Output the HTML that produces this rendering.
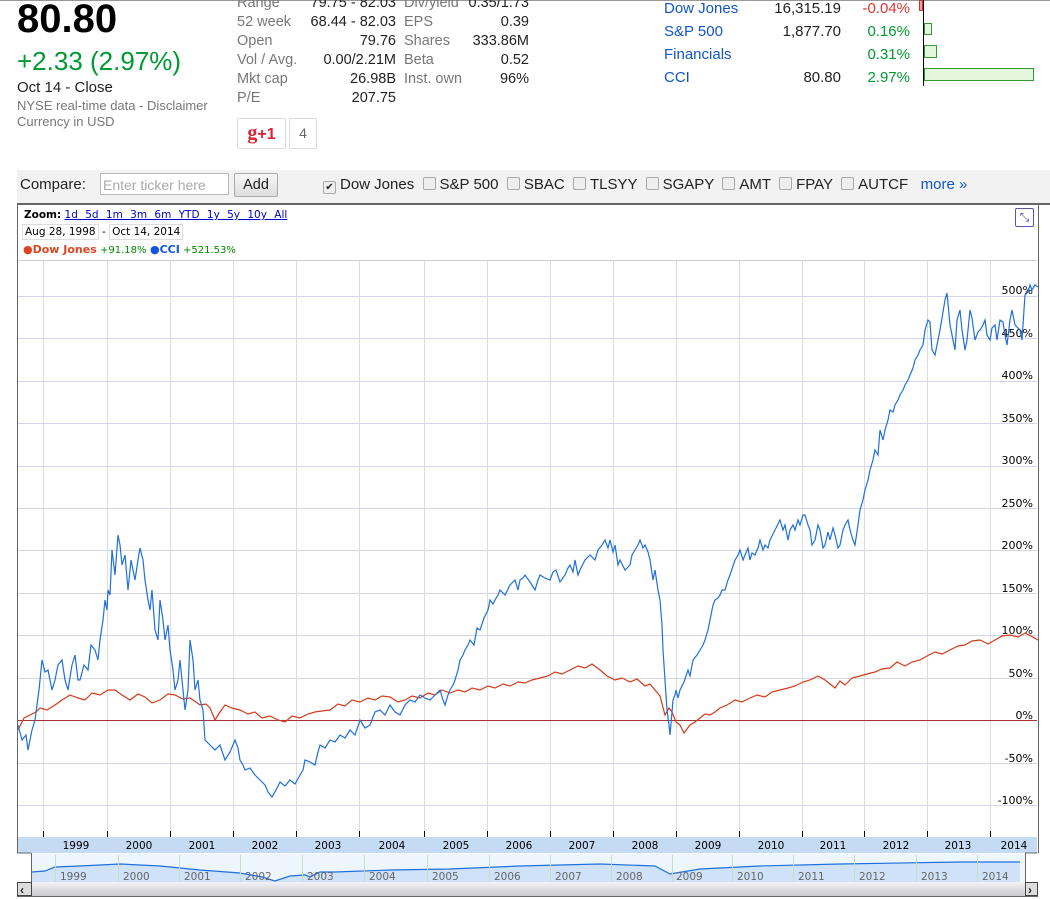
<!DOCTYPE html>
<html><head><meta charset="utf-8"><style>
body{margin:0;width:1050px;height:899px;background:#fff;font-family:"Liberation Sans",Arial,sans-serif;position:relative;overflow:hidden}
.a{position:absolute;white-space:nowrap}
.g{color:#777}
.k{color:#222}
.r{text-align:right}
.cb{display:inline-block;width:11px;height:11px;border:1px solid #aaa;border-radius:2px;background:#eee;vertical-align:-1px;margin-right:4px}
</style></head><body>
<div class="a" style="left:0;top:0;width:1050px;height:1px;background:#999"></div>
<div class="a" style="left:17px;top:-3px;font-size:40px;font-weight:bold;color:#000">80.80</div>
<div class="a" style="left:17px;top:46px;font-size:26px;color:#093">+2.33 (2.97%)</div>
<div class="a" style="left:17px;top:79px;font-size:15px;color:#222">Oct 14 - Close</div>
<div class="a g" style="left:17px;top:98px;font-size:13px">NYSE real-time data - Disclaimer</div>
<div class="a g" style="left:17px;top:114px;font-size:13px">Currency in USD</div>

<div class="a" style="left:237px;top:-6px;font-size:14.5px;line-height:19px">
<div class="g">Range</div><div class="g">52 week</div><div class="g">Open</div><div class="g">Vol / Avg.</div><div class="g">Mkt cap</div><div class="g">P/E</div></div>
<div class="a k r" style="left:290px;width:106px;top:-6px;font-size:14.5px;line-height:19px">
<div>79.75 - 82.03</div><div>68.44 - 82.03</div><div>79.76</div><div>0.00/2.21M</div><div>26.98B</div><div>207.75</div></div>
<div class="a" style="left:404px;top:-6px;font-size:14.5px;line-height:19px">
<div class="g">Div/yield</div><div class="g">EPS</div><div class="g">Shares</div><div class="g">Beta</div><div class="g">Inst. own</div></div>
<div class="a k r" style="left:430px;width:99px;top:-6px;font-size:14.5px;line-height:19px">
<div>0.35/1.73</div><div>0.39</div><div>333.86M</div><div>0.52</div><div>96%</div></div>
<div class="a" style="left:237px;top:118px;width:47px;height:29px;border:1px solid #ddd;border-radius:2px;color:#d23;font-size:20px;text-align:center;line-height:29px;font-family:'Liberation Serif',serif;font-weight:bold">g<span style="font-family:'Liberation Sans';font-size:16px">+1</span></div>
<div class="a" style="left:289px;top:118px;width:26px;height:29px;border:1px solid #ddd;color:#666;font-size:14px;text-align:center;line-height:29px">4</div>

<div class="a" style="left:664px;top:-3px;font-size:15px;line-height:23px;color:#15c"><div>Dow Jones</div><div>S&amp;P 500</div><div>Financials</div><div>CCI</div></div>
<div class="a k r" style="left:740px;width:101px;top:-3px;font-size:15px;line-height:23px"><div>16,315.19</div><div>1,877.70</div><div>&nbsp;</div><div>80.80</div></div>
<div class="a r" style="left:840px;width:70px;top:-3px;font-size:15px;line-height:23px;color:#093"><div style="color:#d33">-0.04%</div><div>0.16%</div><div>0.31%</div><div>2.97%</div></div>
<div class="a" style="left:923px;top:0;width:1px;height:86px;background:#000"></div>
<div class="a" style="left:919px;top:0;width:4px;height:11px;background:#f99;border:1px solid #c33;box-sizing:border-box"></div>
<div class="a" style="left:924px;top:23px;width:8px;height:12px;background:#e4f6de;border:1px solid #393;box-sizing:border-box"></div>
<div class="a" style="left:924px;top:45px;width:13px;height:13px;background:#e4f6de;border:1px solid #393;box-sizing:border-box"></div>
<div class="a" style="left:924px;top:68px;width:110px;height:13px;background:#e4f6de;border:1px solid #393;box-sizing:border-box"></div>

<div class="a" style="left:17px;top:170px;width:1033px;height:33px;background:#f2f2f2;border-bottom:2px solid #666"></div>
<div class="a" style="left:20px;top:176px;font-size:15px;color:#222">Compare:</div>
<div class="a" style="left:100px;top:173px;height:22px;border:1px solid #bbb;background:#fff;color:#aaa;font-size:14px;line-height:22px;padding-left:2px;box-sizing:border-box;width:129px">Enter ticker here</div>
<div class="a" style="left:234px;top:173px;width:42px;height:22px;border:1px solid #aaa;border-radius:2px;background:linear-gradient(#f8f8f8,#ddd);font-size:14.5px;text-align:center;line-height:22px;color:#222">Add</div>
<div class="a" style="left:323px;top:176px;font-size:15px;color:#222"><span class="cb" style="text-align:center;font-size:10px;line-height:11px">✔</span>Dow Jones &nbsp;<span class="cb"></span>S&amp;P 500 &nbsp;<span class="cb"></span>SBAC &nbsp;<span class="cb"></span>TLSYY &nbsp;<span class="cb"></span>SGAPY &nbsp;<span class="cb"></span>AMT &nbsp;<span class="cb"></span>FPAY &nbsp;<span class="cb"></span>AUTCF &nbsp;&nbsp;<span style="color:#15c">more »</span></div>

<div class="a" style="left:17px;top:204px;width:1020px;height:649px;border:1px solid #666;border-top:none;border-bottom:none"></div>
<div class="a" style="left:24px;top:209px;font-size:10.5px;font-family:'DejaVu Sans',sans-serif"><b>Zoom:</b> <span style="color:#00c;text-decoration:underline;word-spacing:4px">1d 5d 1m 3m 6m YTD 1y 5y 10y All</span></div>
<div class="a" style="left:22px;top:226px;font-size:10.5px;font-family:'DejaVu Sans',sans-serif;color:#000"><span style="border:1px solid #ddd;padding:1px 2px">Aug 28, 1998</span> - <span style="border:1px solid #ddd;padding:1px 2px">Oct 14, 2014</span></div>
<div class="a" style="left:23px;top:243px;font-size:11px;font-family:'DejaVu Sans',sans-serif"><span style="color:#d42;font-weight:bold">●Dow Jones</span><span style="color:#080;font-size:10px"> +91.18%</span> <span style="color:#15d;font-weight:bold">●CCI</span><span style="color:#080;font-size:10px"> +521.53%</span></div>
<div class="a" style="left:1015px;top:208px;width:17px;height:17px;border:1px solid #55a;border-radius:2px;color:#44a;font-size:12px;text-align:center;line-height:17px">⤡</div>

<svg class="a" style="left:0;top:0" width="1050" height="899">
<line x1="18" y1="260.5" x2="1037" y2="260.5" stroke="#ccc"/>
<g stroke="#d4d4ea">
<line x1="18" y1="296.5" x2="1037" y2="296.5"/><line x1="18" y1="338.5" x2="1037" y2="338.5"/><line x1="18" y1="381.5" x2="1037" y2="381.5"/><line x1="18" y1="423.5" x2="1037" y2="423.5"/><line x1="18" y1="466.5" x2="1037" y2="466.5"/><line x1="18" y1="508.5" x2="1037" y2="508.5"/><line x1="18" y1="550.5" x2="1037" y2="550.5"/><line x1="18" y1="593.5" x2="1037" y2="593.5"/><line x1="18" y1="635.5" x2="1037" y2="635.5"/><line x1="18" y1="678.5" x2="1037" y2="678.5"/><line x1="18" y1="763.5" x2="1037" y2="763.5"/><line x1="18" y1="805.5" x2="1037" y2="805.5"/>
</g>
<g stroke="#ddd"><line x1="43.5" y1="261" x2="43.5" y2="837"/><line x1="107.5" y1="261" x2="107.5" y2="837"/><line x1="170.5" y1="261" x2="170.5" y2="837"/><line x1="233.5" y1="261" x2="233.5" y2="837"/><line x1="296.5" y1="261" x2="296.5" y2="837"/><line x1="359.5" y1="261" x2="359.5" y2="837"/><line x1="424.5" y1="261" x2="424.5" y2="837"/><line x1="487.5" y1="261" x2="487.5" y2="837"/><line x1="550.5" y1="261" x2="550.5" y2="837"/><line x1="613.5" y1="261" x2="613.5" y2="837"/><line x1="676.5" y1="261" x2="676.5" y2="837"/><line x1="739.5" y1="261" x2="739.5" y2="837"/><line x1="802.5" y1="261" x2="802.5" y2="837"/><line x1="864.5" y1="261" x2="864.5" y2="837"/><line x1="927.5" y1="261" x2="927.5" y2="837"/><line x1="990.5" y1="261" x2="990.5" y2="837"/></g>
<g stroke="#000"><line x1="43.5" y1="831" x2="43.5" y2="837"/><line x1="107.5" y1="831" x2="107.5" y2="837"/><line x1="170.5" y1="831" x2="170.5" y2="837"/><line x1="233.5" y1="831" x2="233.5" y2="837"/><line x1="296.5" y1="831" x2="296.5" y2="837"/><line x1="359.5" y1="831" x2="359.5" y2="837"/><line x1="424.5" y1="831" x2="424.5" y2="837"/><line x1="487.5" y1="831" x2="487.5" y2="837"/><line x1="550.5" y1="831" x2="550.5" y2="837"/><line x1="613.5" y1="831" x2="613.5" y2="837"/><line x1="676.5" y1="831" x2="676.5" y2="837"/><line x1="739.5" y1="831" x2="739.5" y2="837"/><line x1="802.5" y1="831" x2="802.5" y2="837"/><line x1="864.5" y1="831" x2="864.5" y2="837"/><line x1="927.5" y1="831" x2="927.5" y2="837"/><line x1="990.5" y1="831" x2="990.5" y2="837"/></g>
<g font-family="DejaVu Sans,sans-serif" font-size="11" fill="#000" text-anchor="end">
<text x="1033" y="294">500%</text><text x="1033" y="337">450%</text><text x="1033" y="379">400%</text><text x="1033" y="422">350%</text><text x="1033" y="464">300%</text><text x="1033" y="507">250%</text><text x="1033" y="549">200%</text><text x="1033" y="592">150%</text><text x="1033" y="634">100%</text><text x="1033" y="677">50%</text><text x="1033" y="719">0%</text><text x="1033" y="762">-50%</text><text x="1033" y="804">-100%</text>
</g>
<line x1="18" y1="720.5" x2="1037" y2="720.5" stroke="#a33"/>
<polyline fill="none" stroke="#d43a18" stroke-width="1.2" points="18,730 24,718 30,715 36,712 40,708 47,710 55,705 62,700 70,695 78,698 85,700 92,693 100,695 108,690 115,690 122,695 130,700 138,694 145,697 152,703 160,700 168,694 175,695 183,699 190,698 196,702 200,705 206,704 210,708 215,720 220,712 225,705 232,708 240,710 248,714 255,712 262,718 270,716 278,720 285,722 292,716 300,718 308,714 315,712 322,711 330,710 338,704 345,706 352,700 360,702 368,698 375,700 382,696 390,697 398,702 405,700 412,696 420,698 428,693 435,695 442,690 450,693 458,690 465,692 472,688 480,690 488,686 495,688 503,684 510,686 518,682 525,683 532,680 540,678 548,676 555,672 562,674 570,670 578,666 585,668 592,664 600,670 607,676 615,680 622,678 630,682 637,679 645,686 650,684 655,690 660,696 665,715 669,708 672,712 676,722 680,725 684,733 690,725 695,722 700,718 705,714 710,715 715,712 720,708 727,705 735,700 742,702 750,698 757,695 765,697 772,692 780,690 788,688 795,686 803,682 810,680 818,676 825,680 830,684 835,688 840,681 845,685 852,678 860,676 867,674 875,672 882,669 890,668 897,662 905,666 912,662 920,660 927,656 935,652 942,654 950,650 958,646 965,645 972,641 980,640 988,644 995,640 1002,636 1010,635 1018,637 1025,633 1031,636 1038,640"/>
<polyline fill="none" stroke="#1f6fdd" stroke-width="1.2" points="18,725 22,740 26,735 28,750 32,730 35,720 39,690 42,660 45,672 48,670 52,690 55,680 58,665 62,660 65,680 68,690 72,665 75,655 78,680 80,680 84,665 88,670 91,645 95,650 98,660 100,640 103,620 105,600 107,610 108,590 110,595 112,550 115,575 118,535 120,545 122,565 125,555 128,590 131,560 135,580 138,560 140,548 143,560 145,580 148,600 150,610 152,590 155,630 158,640 160,600 163,620 165,640 168,625 170,650 173,670 175,690 178,680 180,660 183,690 185,710 188,690 190,640 193,660 195,690 198,680 200,700 203,710 205,740 210,745 215,750 220,745 225,760 230,752 235,740 238,748 240,760 243,765 245,770 250,768 255,775 260,780 265,785 268,792 272,797 276,790 280,782 285,786 290,780 295,784 300,775 303,770 305,760 310,762 315,765 318,752 320,745 325,748 330,740 335,742 340,735 345,738 350,730 355,735 360,720 365,728 370,725 375,712 380,710 385,715 390,705 395,712 400,715 405,705 410,700 415,702 420,695 425,698 430,700 435,695 440,690 443,700 445,705 448,695 450,690 453,685 455,680 458,670 460,660 463,655 465,650 468,645 470,640 474,645 477,628 480,630 484,618 488,610 490,600 493,604 495,600 498,595 500,590 505,595 510,585 515,580 518,590 520,580 523,578 525,575 530,582 535,590 538,580 540,575 545,578 550,580 553,572 556,570 560,582 565,575 568,568 570,565 573,572 575,560 578,575 580,570 585,560 590,555 595,560 598,550 602,545 605,540 608,548 610,540 613,552 615,545 618,565 620,560 625,570 630,565 632,555 635,550 638,545 640,540 643,548 645,545 648,552 650,560 653,580 655,570 658,590 660,600 662,625 663,650 665,680 667,710 669,725 670,735 672,712 673,700 675,695 676,690 678,698 680,690 684,682 688,670 690,676 693,660 697,655 700,650 703,645 705,640 708,630 710,620 713,605 715,600 718,598 720,595 722,590 725,590 728,580 730,575 735,560 738,555 740,550 743,560 745,555 748,548 750,560 752,553 755,555 758,548 760,540 763,550 765,545 768,548 770,540 775,530 780,520 783,530 785,525 788,540 790,530 793,525 795,530 798,520 800,525 803,515 805,515 808,525 810,530 812,545 815,540 818,525 820,530 823,548 825,545 828,532 830,540 833,528 835,535 838,548 840,545 843,530 845,525 848,520 850,530 853,540 855,545 858,525 860,510 863,500 865,490 868,480 870,470 873,460 875,450 878,455 880,430 883,440 885,430 888,420 890,410 893,412 895,405 898,400 900,395 903,390 905,385 908,380 910,375 913,368 915,360 918,355 920,350 923,345 925,330 928,320 930,322 932,350 935,355 937,345 940,330 942,318 945,300 947,293 950,325 953,340 955,350 957,320 960,310 962,330 965,350 967,340 970,310 972,318 975,340 978,332 980,330 983,325 985,320 987,335 990,340 992,328 995,325 997,340 1000,320 1003,322 1005,335 1007,345 1010,320 1012,310 1015,325 1018,328 1020,330 1022,340 1025,295 1028,292 1030,285 1032,290 1035,285 1038,287"/>
<rect x="18" y="837" width="1019" height="16" fill="#c5daf3"/>
<g font-family="DejaVu Sans,sans-serif" font-size="10.5" fill="#000" text-anchor="middle">
<text x="76" y="849">1999</text><text x="139" y="849">2000</text><text x="202" y="849">2001</text><text x="265" y="849">2002</text><text x="328" y="849">2003</text><text x="392" y="849">2004</text><text x="456" y="849">2005</text><text x="519" y="849">2006</text><text x="582" y="849">2007</text><text x="645" y="849">2008</text><text x="708" y="849">2009</text><text x="771" y="849">2010</text><text x="833" y="849">2011</text><text x="896" y="849">2012</text><text x="958" y="849">2013</text><text x="1014" y="849">2014</text>
</g>
<line x1="17.5" y1="853" x2="31" y2="853" stroke="#666"/>
<line x1="31.5" y1="853" x2="31.5" y2="882" stroke="#666"/>
<line x1="1025" y1="853" x2="1037.5" y2="853" stroke="#666"/>
<line x1="1025.5" y1="853" x2="1025.5" y2="882" stroke="#666"/>
<rect x="32" y="854" width="993" height="28" fill="#edf5fd"/>
<polygon fill="#cfe2f8" points="32,872 45,871 55,867 80,866 120,864 160,866 200,870 240,873 275,881 300,874 320,872 335,872 390,870 450,869 520,866 600,864 655,866 670,874 700,869 760,866 840,864 960,862 1020,862 1020,882 32,882"/>
<polyline fill="none" stroke="#1f6fdd" stroke-width="1.2" points="32,872 45,871 55,867 80,866 120,864 160,866 200,870 240,873 262,877 275,881 290,876 305,875 310,877 320,872 335,872 390,870 450,869 520,866 600,864 655,866 670,874 700,869 760,866 840,864 960,862 1020,862"/>
<g stroke="#c8dcc8"><line x1="55.5" y1="855" x2="55.5" y2="882"/><line x1="118.5" y1="855" x2="118.5" y2="882"/><line x1="179.5" y1="855" x2="179.5" y2="882"/><line x1="240.5" y1="855" x2="240.5" y2="882"/><line x1="302.5" y1="855" x2="302.5" y2="882"/><line x1="364.5" y1="855" x2="364.5" y2="882"/><line x1="427.5" y1="855" x2="427.5" y2="882"/><line x1="489.5" y1="855" x2="489.5" y2="882"/><line x1="550.5" y1="855" x2="550.5" y2="882"/><line x1="611.5" y1="855" x2="611.5" y2="882"/><line x1="672.5" y1="855" x2="672.5" y2="882"/><line x1="732.5" y1="855" x2="732.5" y2="882"/><line x1="793.5" y1="855" x2="793.5" y2="882"/><line x1="854.5" y1="855" x2="854.5" y2="882"/><line x1="916.5" y1="855" x2="916.5" y2="882"/><line x1="977.5" y1="855" x2="977.5" y2="882"/></g>
<g font-family="DejaVu Sans,sans-serif" font-size="10.5" fill="#666">
<text x="60" y="880">1999</text><text x="123" y="880">2000</text><text x="184" y="880">2001</text><text x="245" y="880">2002</text><text x="307" y="880">2003</text><text x="369" y="880">2004</text><text x="432" y="880">2005</text><text x="494" y="880">2006</text><text x="555" y="880">2007</text><text x="616" y="880">2008</text><text x="676" y="880">2009</text><text x="737" y="880">2010</text><text x="798" y="880">2011</text><text x="859" y="880">2012</text><text x="921" y="880">2013</text><text x="982" y="880">2014</text>
</g>
<defs><linearGradient id="sb" x1="0" y1="0" x2="0" y2="1"><stop offset="0" stop-color="#f2f2f4"/><stop offset="1" stop-color="#c9c9cf"/></linearGradient></defs>
<rect x="31" y="882" width="995" height="14" fill="url(#sb)"/>
<rect x="17.5" y="882.5" width="14" height="13" fill="#ddd" stroke="#444"/>
<text x="20" y="894" font-size="12" font-weight="bold" fill="#222">‹</text>
<rect x="1025.5" y="882.5" width="12" height="13" fill="#ddd" stroke="#444"/>
<text x="1028" y="894" font-size="12" font-weight="bold" fill="#222">›</text>
<line x1="17" y1="896.5" x2="1038" y2="896.5" stroke="#666"/>
</svg>
</body></html>
